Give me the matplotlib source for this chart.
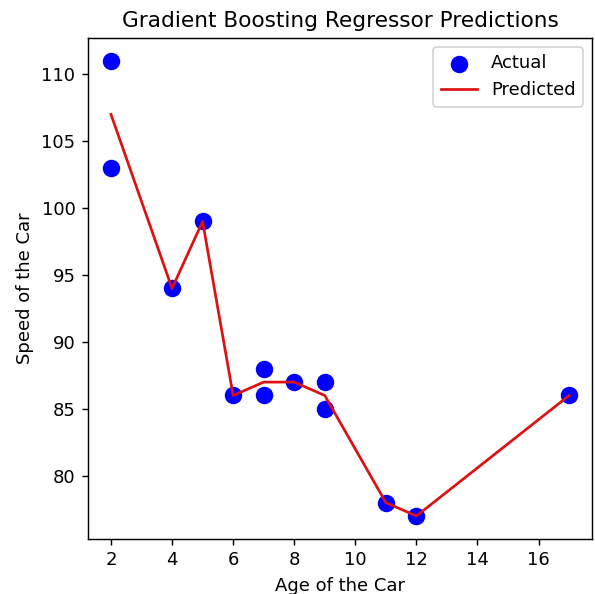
import matplotlib
matplotlib.use("Agg")
import matplotlib.pyplot as plt
from matplotlib.ticker import MultipleLocator

# Observed car ages and speeds
age = [2, 2, 4, 5, 6, 7, 7, 8, 9, 9, 11, 12, 17]
speed = [111, 103, 94, 99, 86, 88, 86, 87, 87, 85, 78, 77, 86]

# Model predictions at each distinct age
pred_age = [2, 4, 5, 6, 7, 8, 9, 11, 12, 17]
pred_speed = [107, 94, 99, 86, 87, 87, 86, 78, 77, 86]

DPI = 130
fig = plt.figure(figsize=(595 / DPI, 594 / DPI), dpi=DPI)
ax = fig.add_axes([0.148, 0.093, 0.847, 0.843])

ax.scatter(age, speed, color="blue", s=75, label="Actual", zorder=2)
ax.plot(pred_age, pred_speed, color="#dd1111", linewidth=1.5, label="Predicted", zorder=3)

ax.xaxis.set_major_locator(MultipleLocator(2))
ax.set_title("Gradient Boosting Regressor Predictions")
ax.set_xlabel("Age of the Car")
ax.set_ylabel("Speed of the Car")
ax.legend(loc="upper right")

fig.savefig("out.png", dpi=DPI)
